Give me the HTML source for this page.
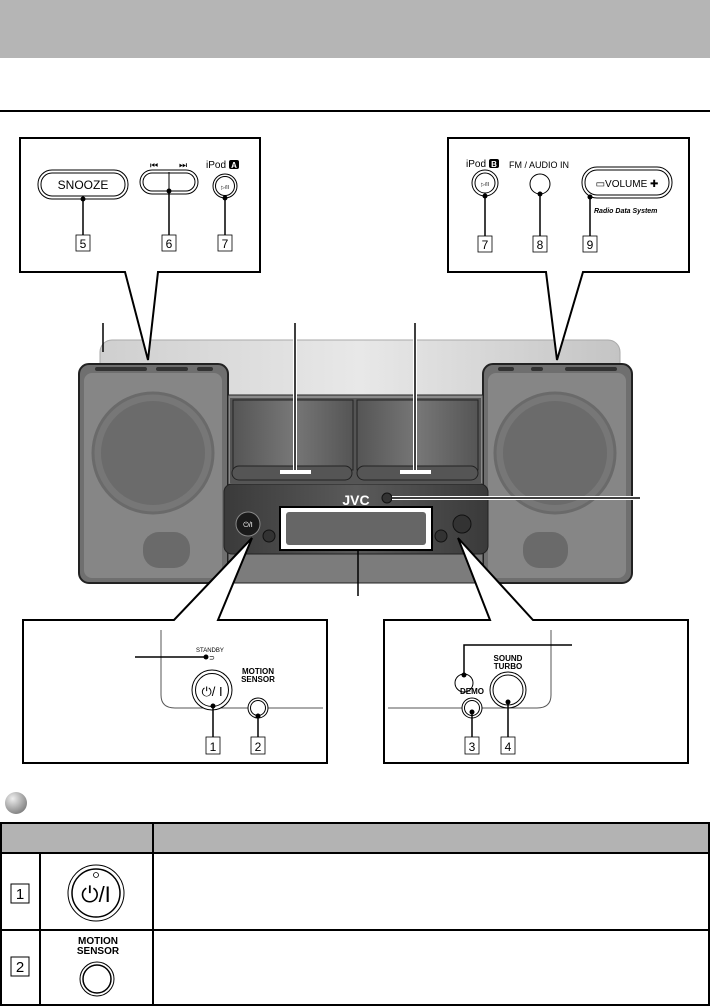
<!DOCTYPE html>
<html><head><meta charset="utf-8"><style>
html,body{margin:0;padding:0;background:#fff}
svg{display:block}
text{font-family:"Liberation Sans",sans-serif}
</style></head><body>
<svg width="710" height="1007" viewBox="0 0 710 1007" xmlns="http://www.w3.org/2000/svg">
<defs>
<linearGradient id="band" x1="0" x2="1"><stop offset="0" stop-color="#cfcfcf"/><stop offset=".5" stop-color="#e8e8e8"/><stop offset="1" stop-color="#c4c4c4"/></linearGradient>
<linearGradient id="panel" x1="0" x2="1"><stop offset="0" stop-color="#3a3a3a"/><stop offset=".5" stop-color="#5a5a5a"/><stop offset="1" stop-color="#3a3a3a"/></linearGradient>
<linearGradient id="dock" x1="0" x2="1"><stop offset="0" stop-color="#555"/><stop offset=".5" stop-color="#777"/><stop offset="1" stop-color="#555"/></linearGradient>
<radialGradient id="ball" cx=".35" cy=".3" r=".8"><stop offset="0" stop-color="#eee"/><stop offset="1" stop-color="#777"/></radialGradient>
</defs>
<rect x="0" y="0" width="710" height="58" fill="#b5b5b5"/>
<rect x="0" y="110" width="710" height="2" fill="#000"/>

<!-- unit -->
<rect x="100" y="340" width="520" height="60" rx="12" fill="url(#band)" stroke="#aaa"/>
<rect x="79" y="364" width="149" height="219" rx="10" fill="#6f6f6f" stroke="#222" stroke-width="2"/>
<rect x="84" y="373" width="138" height="205" rx="8" fill="#868686"/>
<circle cx="153" cy="453" r="60" fill="#777" stroke="#6a6a6a" stroke-width="3"/>
<circle cx="153" cy="453" r="52" fill="#6b6b6b"/>
<rect x="143" y="532" width="47" height="36" rx="16" fill="#6a6a6a"/>
<rect x="95" y="367" width="52" height="4" rx="2" fill="#333"/><rect x="156" y="367" width="32" height="4" rx="2" fill="#333"/><rect x="197" y="367" width="16" height="4" rx="2" fill="#333"/>
<rect x="483" y="364" width="149" height="219" rx="10" fill="#6f6f6f" stroke="#222" stroke-width="2"/>
<rect x="488" y="373" width="138" height="205" rx="8" fill="#868686"/>
<circle cx="555" cy="453" r="60" fill="#777" stroke="#6a6a6a" stroke-width="3"/>
<circle cx="555" cy="453" r="52" fill="#6b6b6b"/>
<rect x="523" y="532" width="45" height="36" rx="16" fill="#6a6a6a"/>
<rect x="498" y="367" width="16" height="4" rx="2" fill="#333"/><rect x="531" y="367" width="12" height="4" rx="2" fill="#333"/><rect x="565" y="367" width="52" height="4" rx="2" fill="#333"/>
<rect x="228" y="395" width="255" height="188" fill="#8a8a8a" stroke="#222"/>
<rect x="228" y="553" width="255" height="30" fill="#7c7c7c" stroke="#222"/>
<rect x="230" y="398" width="251" height="85" fill="#555"/>
<rect x="233" y="400" width="120" height="70" fill="url(#dock)" stroke="#222"/>
<rect x="357" y="400" width="121" height="70" fill="url(#dock)" stroke="#222"/>
<rect x="232" y="466" width="120" height="14" rx="7" fill="#555" stroke="#222"/>
<rect x="357" y="466" width="121" height="14" rx="7" fill="#555" stroke="#222"/>
<rect x="224" y="484" width="264" height="70" rx="8" fill="url(#panel)" stroke="#222"/>
<rect x="280" y="507" width="152" height="43" fill="#fff" stroke="#000" stroke-width="2"/>
<rect x="286" y="512" width="140" height="33" rx="3" fill="#666"/>
<circle cx="248" cy="524" r="12" fill="#1a1a1a" stroke="#888"/>
<text x="248" y="527" font-size="7" fill="#fff" text-anchor="middle">⏻/I</text>
<circle cx="269" cy="536" r="6" fill="#333" stroke="#111"/>
<circle cx="441" cy="536" r="6" fill="#333" stroke="#111"/>
<circle cx="462" cy="524" r="9" fill="#333" stroke="#111"/>
<text x="356" y="505" font-size="14" font-weight="bold" fill="#fff" text-anchor="middle">JVC</text>
<circle cx="387" cy="498" r="5" fill="#333" stroke="#111"/>
<line x1="103" y1="323" x2="103" y2="352" stroke="#000" stroke-width="1.5"/>
<line x1="295" y1="323" x2="295" y2="472" stroke="#fff" stroke-width="4"/><line x1="295" y1="323" x2="295" y2="472" stroke="#000" stroke-width="1.5"/>
<line x1="280" y1="472" x2="311" y2="472" stroke="#fff" stroke-width="4"/>
<line x1="415" y1="323" x2="415" y2="472" stroke="#fff" stroke-width="4"/><line x1="415" y1="323" x2="415" y2="472" stroke="#000" stroke-width="1.5"/>
<line x1="400" y1="472" x2="431" y2="472" stroke="#fff" stroke-width="4"/>
<line x1="392" y1="498" x2="640" y2="498" stroke="#fff" stroke-width="4"/><line x1="392" y1="498" x2="640" y2="498" stroke="#000" stroke-width="1.5"/>
<line x1="358" y1="551" x2="358" y2="596" stroke="#000" stroke-width="1.5"/>

<!-- top callouts -->
<polygon points="20,138 260,138 260,272 158,272 148,360 125,272 20,272" fill="#fff" stroke="#000" stroke-width="2"/>
<rect x="38" y="170" width="90" height="29" rx="14" fill="#fff" stroke="#000"/><rect x="41" y="173" width="84" height="23" rx="11" fill="none" stroke="#000"/>
<text x="83" y="189" font-size="12" text-anchor="middle">SNOOZE</text>
<rect x="140" y="170" width="58" height="24" rx="12" fill="#fff" stroke="#000"/><rect x="143" y="173" width="52" height="18" rx="9" fill="none" stroke="#000"/>
<line x1="169" y1="172" x2="169" y2="191" stroke="#000"/>
<text x="154" y="168" font-size="9" text-anchor="middle">⏮</text><text x="183" y="168" font-size="9" text-anchor="middle">⏭</text>
<text x="206" y="168" font-size="10">iPod</text><rect x="229" y="160" width="10" height="9" rx="2" fill="#000"/><text x="234" y="168" font-size="8" fill="#fff" text-anchor="middle" font-weight="bold">A</text>
<circle cx="225" cy="186" r="12" fill="#fff" stroke="#000"/><circle cx="225" cy="186" r="9.5" fill="none" stroke="#000"/>
<text x="225" y="189" font-size="5" text-anchor="middle">▷/II</text>
<g stroke="#000" stroke-width="1.5"><line x1="83" y1="199" x2="83" y2="235"/><line x1="169" y1="191" x2="169" y2="235"/><line x1="225" y1="198" x2="225" y2="235"/></g>
<g fill="#000"><circle cx="83" cy="199" r="2.5"/><circle cx="169" cy="191" r="2.5"/><circle cx="225" cy="198" r="2.5"/></g>
<g fill="#fff" stroke="#000" stroke-width=".8"><rect x="76" y="235" width="14" height="16"/><rect x="162" y="235" width="14" height="16"/><rect x="218" y="235" width="14" height="16"/></g>
<g font-size="12" text-anchor="middle"><text x="83" y="248">5</text><text x="169" y="248">6</text><text x="225" y="248">7</text></g>

<polygon points="448,138 689,138 689,272 583,272 557,360 546,272 448,272" fill="#fff" stroke="#000" stroke-width="2"/>
<text x="466" y="167" font-size="10">iPod</text><rect x="489" y="159" width="10" height="9" rx="2" fill="#000"/><text x="494" y="167" font-size="8" fill="#fff" text-anchor="middle" font-weight="bold">B</text>
<circle cx="485" cy="183" r="13" fill="#fff" stroke="#000"/><circle cx="485" cy="183" r="10" fill="none" stroke="#000"/>
<text x="485" y="186" font-size="5" text-anchor="middle">▷/II</text>
<text x="509" y="168" font-size="9">FM / AUDIO IN</text>
<circle cx="540" cy="184" r="10" fill="#fff" stroke="#000"/>
<rect x="582" y="167" width="90" height="31" rx="15" fill="#fff" stroke="#000"/><rect x="585" y="170" width="84" height="25" rx="12" fill="none" stroke="#000"/>
<text x="627" y="187" font-size="10" text-anchor="middle">▭VOLUME ✚</text>
<text x="594" y="213" font-size="7" font-weight="bold" font-style="italic">Radio Data System</text>
<g stroke="#000" stroke-width="1.5"><line x1="485" y1="196" x2="485" y2="236"/><line x1="540" y1="194" x2="540" y2="236"/><line x1="590" y1="197" x2="590" y2="236"/></g>
<g fill="#000"><circle cx="485" cy="196" r="2.5"/><circle cx="540" cy="194" r="2.5"/><circle cx="590" cy="197" r="2.5"/></g>
<g fill="#fff" stroke="#000" stroke-width=".8"><rect x="478" y="236" width="14" height="16"/><rect x="533" y="236" width="14" height="16"/><rect x="583" y="236" width="14" height="16"/></g>
<g font-size="12" text-anchor="middle"><text x="485" y="249">7</text><text x="540" y="249">8</text><text x="590" y="249">9</text></g>

<!-- bottom callouts -->
<polygon points="23,620 174,620 252,538 218,620 327,620 327,763 23,763" fill="#fff" stroke="#000" stroke-width="2"/>
<path d="M161,630 V695 Q161,708 175,708 H323" fill="none" stroke="#555" stroke-width="1"/>
<line x1="135" y1="657" x2="205" y2="657" stroke="#000" stroke-width="1.5"/><circle cx="206" cy="657" r="2.5"/>
<text x="196" y="652" font-size="6">STANDBY</text><text x="209" y="660" font-size="7">⊃</text>
<circle cx="212" cy="690" r="20" fill="#fff" stroke="#000"/><circle cx="212" cy="690" r="16.5" fill="none" stroke="#000"/>
<text x="212" y="696" font-size="13" text-anchor="middle">⏻/ I</text>
<text x="258" y="674" font-size="8" font-weight="bold" text-anchor="middle">MOTION</text>
<text x="258" y="682" font-size="8" font-weight="bold" text-anchor="middle">SENSOR</text>
<circle cx="258" cy="708" r="10" fill="#fff" stroke="#000"/><circle cx="258" cy="708" r="7.5" fill="none" stroke="#000"/>
<g stroke="#000" stroke-width="1.5"><line x1="213" y1="706" x2="213" y2="737"/><line x1="258" y1="716" x2="258" y2="737"/></g>
<circle cx="213" cy="706" r="2.5"/><circle cx="258" cy="716" r="2.5"/>
<g fill="#fff" stroke="#000" stroke-width=".8"><rect x="206" y="737" width="14" height="17"/><rect x="251" y="737" width="14" height="17"/></g>
<g font-size="12" text-anchor="middle"><text x="213" y="751">1</text><text x="258" y="751">2</text></g>

<polygon points="384,620 490,620 458,538 533,620 688,620 688,763 384,763" fill="#fff" stroke="#000" stroke-width="2"/>
<path d="M551,630 V695 Q551,708 537,708 H388" fill="none" stroke="#555" stroke-width="1"/>
<polyline points="572,645 464,645 464,674" fill="none" stroke="#000" stroke-width="1.5"/>
<circle cx="464" cy="675" r="2.5"/>
<circle cx="464" cy="683" r="9" fill="none" stroke="#000"/>
<text x="508" y="661" font-size="8" font-weight="bold" text-anchor="middle">SOUND</text>
<text x="508" y="669" font-size="8" font-weight="bold" text-anchor="middle">TURBO</text>
<circle cx="508" cy="690" r="18" fill="#fff" stroke="#000"/><circle cx="508" cy="690" r="15" fill="none" stroke="#000"/>
<text x="472" y="694" font-size="8" font-weight="bold" text-anchor="middle">DEMO</text>
<circle cx="472" cy="708" r="10" fill="#fff" stroke="#000"/><circle cx="472" cy="708" r="7.5" fill="none" stroke="#000"/>
<g stroke="#000" stroke-width="1.5"><line x1="472" y1="712" x2="472" y2="737"/><line x1="508" y1="702" x2="508" y2="737"/></g>
<circle cx="472" cy="712" r="2.5"/><circle cx="508" cy="702" r="2.5"/>
<g fill="#fff" stroke="#000" stroke-width=".8"><rect x="465" y="737" width="14" height="17"/><rect x="501" y="737" width="14" height="17"/></g>
<g font-size="12" text-anchor="middle"><text x="472" y="751">3</text><text x="508" y="751">4</text></g>

<!-- section -->
<circle cx="16" cy="803" r="11" fill="url(#ball)"/>
<rect x="1" y="823" width="708" height="30" fill="#b3b3b3"/>
<rect x="1" y="823" width="708" height="182" fill="none" stroke="#000" stroke-width="2"/>
<line x1="153" y1="823" x2="153" y2="1005" stroke="#000" stroke-width="2"/>
<line x1="1" y1="853" x2="709" y2="853" stroke="#000" stroke-width="2"/>
<line x1="1" y1="930" x2="709" y2="930" stroke="#000" stroke-width="2"/>
<line x1="40" y1="853" x2="40" y2="1005" stroke="#000" stroke-width="2"/>
<rect x="11" y="884" width="18" height="19" fill="#fff" stroke="#000"/><text x="20" y="899" font-size="15" text-anchor="middle">1</text>
<rect x="11" y="957" width="18" height="19" fill="#fff" stroke="#000"/><text x="20" y="972" font-size="15" text-anchor="middle">2</text>
<circle cx="96" cy="893" r="28" fill="#fff" stroke="#000"/><circle cx="96" cy="893" r="24" fill="none" stroke="#000" stroke-width="1.5"/>
<circle cx="96" cy="875" r="2.5" fill="none" stroke="#000" stroke-width=".8"/>
<text x="96" y="902" font-size="22" text-anchor="middle">⏻/I</text>
<text x="98" y="944" font-size="10" font-weight="bold" text-anchor="middle">MOTION</text>
<text x="98" y="954" font-size="10" font-weight="bold" text-anchor="middle">SENSOR</text>
<circle cx="97" cy="979" r="17" fill="#fff" stroke="#000"/><circle cx="97" cy="979" r="14" fill="none" stroke="#000" stroke-width="1.5"/>
</svg>
</body></html>
